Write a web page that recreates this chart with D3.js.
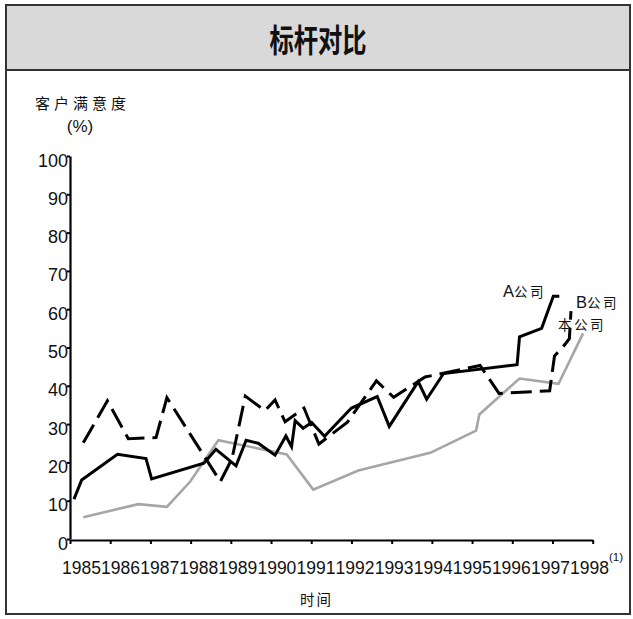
<!DOCTYPE html>
<html>
<head>
<meta charset="utf-8">
<script src="https://cdn.jsdelivr.net/npm/d3@7"></script>
<style>
  html, body { margin: 0; padding: 0; background: #fff; }
  svg { display: block; }
  .num { font-family: "Liberation Sans", Arial, sans-serif; }
  .cjk { font-family: "Noto Sans CJK SC", sans-serif; }
</style>
</head>
<body>
<svg id="chart" width="633" height="619"></svg>
<script>
// Year ticks and their labels
const years = [1985, 1986, 1987, 1988, 1989, 1990, 1991, 1992, 1993, 1994, 1995, 1996, 1997, 1998];
const yearLabels = ["1985", "1986", "1987", "1988", "1989", "1990", "1991", "1992", "1993", "1994", "1995", "1996", "1997", "1998"];
const valueTicks = [0, 10, 20, 30, 40, 50, 60, 70, 80, 90, 100];

// A公司 (solid black)
const aTime  = [1985.10, 1985.29, 1986.18, 1986.89, 1987.03, 1988.33, 1988.63, 1989.13, 1989.38, 1989.68,
                1990.10, 1990.37, 1990.51, 1990.60, 1990.80, 1991.01, 1991.33, 1992.00, 1992.64, 1992.94,
                1993.66, 1993.87, 1994.29, 1996.12, 1996.18, 1996.73, 1997.02, 1997.17];
const aScore = [10.4, 15.4, 22.1, 21.0, 15.7, 19.8, 23.4, 19.1, 25.8, 25.0,
                21.9, 26.9, 24.1, 30.9, 28.9, 30.4, 26.8, 34.2, 37.2, 29.4,
                41.1, 36.5, 43.2, 45.5, 52.8, 55.0, 63.4, 63.4];

// B公司 (dashed black)
const bTime  = [1985.33, 1985.93, 1986.45, 1987.14, 1987.41, 1988.74, 1989.03, 1989.36, 1989.85, 1990.10,
                1990.35, 1990.82, 1991.19, 1991.90, 1992.62, 1993.05, 1993.83, 1995.20, 1995.67, 1996.93,
                1997.05, 1997.25, 1997.42, 1997.46];
const bScore = [25.1, 36.1, 26.2, 26.5, 36.9, 15.0, 21.0, 37.3, 33.5, 36.3,
                30.6, 34.2, 24.8, 30.5, 41.3, 37.0, 42.3, 45.3, 38.0, 38.7,
                47.8, 50.0, 52.3, 59.5];

// 本公司 (gray)
const oTime  = [1985.33, 1986.70, 1987.41, 1987.99, 1988.69, 1990.39, 1991.05, 1992.17, 1993.96, 1995.10,
                1995.18, 1996.18, 1997.15, 1997.76];
const oScore = [5.7, 9.1, 8.4, 15.0, 25.8, 22.1, 12.9, 17.9, 22.5, 28.3,
                32.5, 41.9, 40.5, 53.7];

const svg = d3.select("#chart");

// Outer frame and title band
svg.append("rect").attr("x", 6).attr("y", 5).attr("width", 624).attr("height", 609)
  .attr("fill", "#fff").attr("stroke", "#333").attr("stroke-width", 2);
svg.append("rect").attr("x", 6).attr("y", 5).attr("width", 624).attr("height", 65)
  .attr("fill", "#d9d9d9").attr("stroke", "#333").attr("stroke-width", 2);
svg.append("text").attr("class", "cjk")
  .attr("transform", "translate(318,52) scale(0.76,1)")
  .attr("text-anchor", "middle")
  .attr("font-size", 32).attr("font-weight", 600).attr("fill", "#111")
  .text("标杆对比");

// Scales
const x = d3.scaleLinear().domain([1985, 1998]).range([70, 592.7]);
const y = d3.scaleLinear().domain([0, 100]).range([539, 156]);
const labelPos = d3.scalePoint().domain(yearLabels).range([81, 589]);

// Y axis
const yAxis = svg.append("g").attr("transform", "translate(70,0)")
  .call(d3.axisLeft(y).tickValues(valueTicks).tickSize(3).tickPadding(-1).tickSizeOuter(0));
yAxis.select(".domain").attr("stroke", "#000").attr("stroke-width", 2.2);
yAxis.selectAll(".tick line").attr("stroke", "#000").attr("stroke-width", 2);
yAxis.selectAll(".tick text").attr("class", "num").attr("font-size", 18)
  .attr("fill", "#111").attr("dy", "0.56em");

// X axis: tick marks
const xAxis = svg.append("g").attr("transform", "translate(0,540)")
  .call(d3.axisBottom(x).tickValues(years).tickSize(4).tickSizeOuter(0).tickFormat(""));
xAxis.select(".domain").attr("stroke", "#000").attr("stroke-width", 2.2);
xAxis.selectAll(".tick line").attr("stroke", "#000").attr("stroke-width", 2);

// X axis: year labels
const xLabels = svg.append("g").attr("transform", "translate(0,540)")
  .call(d3.axisBottom(labelPos).tickSize(0).tickPadding(22));
xLabels.select(".domain").remove();
xLabels.selectAll(".tick text").attr("class", "num").attr("font-size", 17.5).attr("fill", "#111");
svg.append("text").attr("class", "num")
  .attr("x", labelPos("1998") + 20).attr("y", 561)
  .attr("font-size", 11.5).attr("fill", "#111").text("(1)");

// Axis titles
svg.append("text").attr("class", "cjk").attr("x", 35).attr("y", 109)
  .attr("font-size", 15).attr("letter-spacing", 4).attr("fill", "#111").text("客户满意度");
svg.append("text").attr("class", "num").attr("x", 80).attr("y", 132)
  .attr("text-anchor", "middle").attr("font-size", 17).attr("fill", "#111").text("(%)");
svg.append("text").attr("class", "cjk").attr("x", 300).attr("y", 605)
  .attr("font-size", 14.5).attr("letter-spacing", 2).attr("fill", "#111").text("时间");

// Lines
const line = d3.line().x(d => x(d[0])).y(d => y(d[1]));
const series = [
  { t: oTime, v: oScore, color: "#a6a6a6", width: 2.6, dash: null },
  { t: bTime, v: bScore, color: "#000", width: 3, dash: "21,8" },
  { t: aTime, v: aScore, color: "#000", width: 3, dash: null }
];
series.forEach(s => {
  svg.append("path")
    .datum(d3.zip(s.t, s.v))
    .attr("d", line)
    .attr("fill", "none")
    .attr("stroke", s.color)
    .attr("stroke-width", s.width)
    .attr("stroke-linejoin", "miter")
    .attr("stroke-dasharray", s.dash);
});

// Series labels
function seriesLabel(px, py, prefix, name) {
  const t = svg.append("text").attr("x", px).attr("y", py).attr("fill", "#111");
  if (prefix) t.append("tspan").attr("class", "num").attr("font-size", 16.5).text(prefix);
  t.append("tspan").attr("class", "cjk").attr("font-size", 13.5).attr("letter-spacing", 2.5).text(name);
}
seriesLabel(503, 297, "A", "公司");
seriesLabel(576, 308, "B", "公司");
seriesLabel(558, 330, null, "本公司");
</script>
</body>
</html>
